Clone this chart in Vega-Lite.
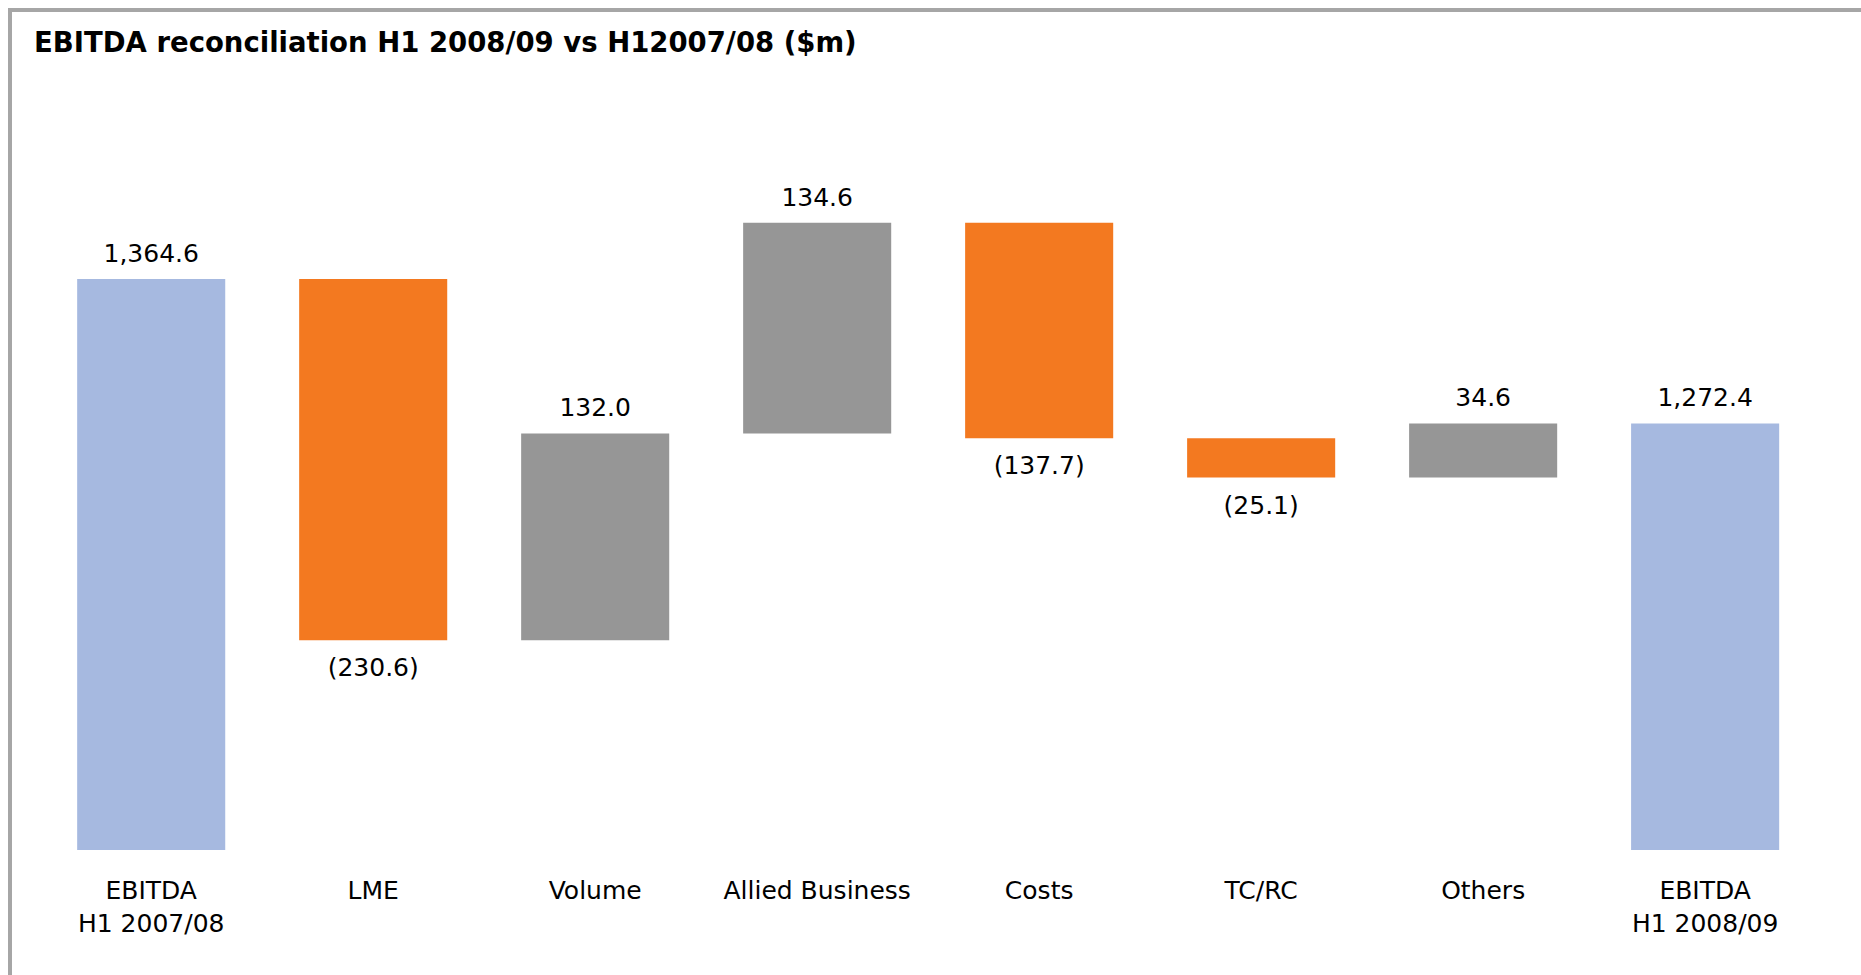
{
  "$schema": "https://vega.github.io/schema/vega-lite/v6.json",
  "autosize": {"type": "none"},
  "width": 1855,
  "height": 970,
  "padding": {"left": 10, "top": 10, "right": -4, "bottom": -5},
  "background": "white",
  "title": {
    "text": "EBITDA reconciliation H1 2008/09 vs H12007/08 ($m)",
    "anchor": "start",
    "frame": "group",
    "orient": "top",
    "baseline": "alphabetic",
    "offset": 0,
    "dx": 24,
    "dy": 69,
    "font": "DejaVu Sans",
    "fontSize": 27.5,
    "fontWeight": "bold",
    "color": "#000000"
  },
  "config": {
    "view": {"stroke": "#A6A6A6", "strokeWidth": 4},
    "font": "DejaVu Sans"
  },
  "data": {
    "values": [
      {"cat": "EBITDA|H1 2007/08", "kind": "total", "lo": null, "hi": 1364.6, "label": "1,364.6"},
      {"cat": "LME", "kind": "down", "lo": 1134.0, "hi": 1364.6, "label": "(230.6)"},
      {"cat": "Volume", "kind": "up", "lo": 1134.0, "hi": 1266.0, "label": "132.0"},
      {"cat": "Allied Business", "kind": "up", "lo": 1266.0, "hi": 1400.6, "label": "134.6"},
      {"cat": "Costs", "kind": "down", "lo": 1262.9, "hi": 1400.6, "label": "(137.7)"},
      {"cat": "TC/RC", "kind": "down", "lo": 1237.8, "hi": 1262.9, "label": "(25.1)"},
      {"cat": "Others", "kind": "up", "lo": 1237.8, "hi": 1272.4, "label": "34.6"},
      {"cat": "EBITDA|H1 2008/09", "kind": "total", "lo": null, "hi": 1272.4, "label": "1,272.4"}
    ]
  },
  "encoding": {
    "x": {
      "field": "cat",
      "type": "nominal",
      "sort": ["EBITDA|H1 2007/08", "LME", "Volume", "Allied Business", "Costs", "TC/RC", "Others", "EBITDA|H1 2008/09"],
      "scale": {"paddingInner": 0.333, "paddingOuter": 0.3446, "align": 0.439},
      "axis": {
        "title": null,
        "orient": "bottom",
        "offset": -130,
        "domain": false,
        "ticks": false,
        "labelAngle": 0,
        "labelLimit": 0,
        "labelExpr": "split(datum.label, '|')",
        "labelFont": "DejaVu Sans",
        "labelFontSize": 25,
        "labelColor": "#000000",
        "labelBaseline": "top",
        "labelLineHeight": 33,
        "labelPadding": 28
      }
    }
  },
  "layer": [
    {
      "transform": [{"filter": "datum.kind == 'total'"}],
      "mark": {"type": "bar", "color": "#A6B9E0"},
      "encoding": {
        "y": {"field": "hi", "type": "quantitative", "scale": {"domain": [917, 1536.4], "nice": false, "zero": false}, "axis": null},
        "y2": {"datum": 1000}
      }
    },
    {
      "transform": [{"filter": "datum.kind != 'total'"}],
      "mark": {"type": "bar"},
      "encoding": {
        "y": {"field": "hi", "type": "quantitative"},
        "y2": {"field": "lo"},
        "color": {
          "field": "kind",
          "type": "nominal",
          "scale": {"domain": ["up", "down"], "range": ["#969696", "#F37920"]},
          "legend": null
        }
      }
    },
    {
      "transform": [{"filter": "datum.kind != 'down'"}],
      "mark": {"type": "text", "baseline": "alphabetic", "dy": -17, "fontSize": 25, "font": "DejaVu Sans", "color": "#000000"},
      "encoding": {
        "y": {"field": "hi", "type": "quantitative"},
        "text": {"field": "label"}
      }
    },
    {
      "transform": [{"filter": "datum.kind == 'down'"}],
      "mark": {"type": "text", "baseline": "alphabetic", "dy": 36, "fontSize": 25, "font": "DejaVu Sans", "color": "#000000"},
      "encoding": {
        "y": {"field": "lo", "type": "quantitative"},
        "text": {"field": "label"}
      }
    }
  ],
  "resolve": {"scale": {"y": "shared"}}
}
